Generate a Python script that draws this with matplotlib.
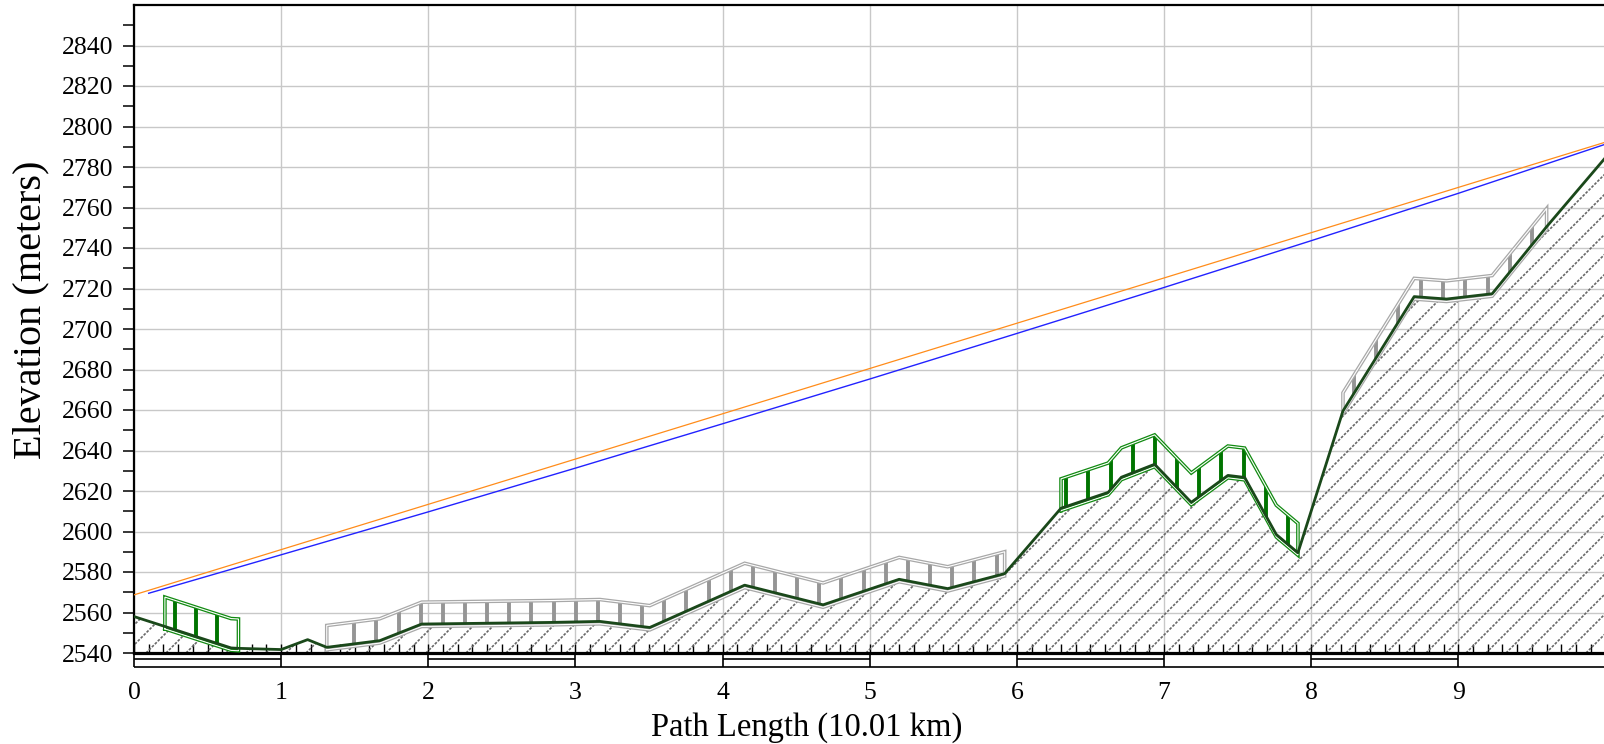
import numpy as np
import matplotlib
matplotlib.use("Agg")
import matplotlib.pyplot as plt
from matplotlib.collections import LineCollection
from matplotlib.patches import Polygon

plt.rcParams['font.family'] = ['Liberation Serif', 'DejaVu Serif']

# terrain profile (km, m)
dist = [0.0, 0.21, 0.66, 0.71, 1.00, 1.18, 1.31, 1.67, 1.955, 2.83, 3.166, 3.505,
        4.15, 4.683, 5.20, 5.53, 5.917, 6.30, 6.62, 6.71, 6.936, 7.185, 7.434,
        7.548, 7.763, 7.91, 8.216, 8.70, 8.92, 9.23, 9.60, 10.01]
elev = [2558.0, 2553.1, 2542.5, 2542.3, 2541.7, 2546.6, 2542.8, 2546.1, 2554.3,
        2555.1, 2555.6, 2552.6, 2573.5, 2563.8, 2576.4, 2571.8, 2579.2, 2611.5,
        2619.3, 2626.8, 2633.2, 2614.4, 2627.7, 2626.7, 2598.5, 2589.5, 2659.5,
        2716.0, 2714.8, 2717.4, 2750.5, 2785.5]

# clutter blocks: start km, end km, height m, first bar km, bar spacing km
clutter_start = [0.21, 1.31, 6.30, 8.216]
clutter_end = [0.71, 5.917, 7.91, 9.60]
clutter_height = [14.5, 10.8, 14.5, 9.0]
clutter_kind = ['forest', 'other', 'forest', 'other']
bar_first = [0.28, 1.497, 6.336, 8.29]
bar_step = [0.143, 0.1505, 0.1506, 0.1515]

# line of sight (orange) and radio path (blue)
los_x = [0.0, 10.01]
los_y = [2568.7, 2792.5]
ray_x = [0.1, 1, 2, 3, 4, 5, 6, 7, 8, 9, 10.01]
ray_y = [2569.5, 2588.5, 2609.7, 2631.3, 2653.2, 2675.3, 2697.8, 2720.5,
         2743.6, 2767.0, 2791.5]

km_ticks = [0, 1, 2, 3, 4, 5, 6, 7, 8, 9]

dist = np.array(dist)
elev = np.array(elev)

fig = plt.figure(figsize=(16.04, 7.44), dpi=100)
ax_l, ax_b, ax_w, ax_h = 134 / 1604, 91 / 744, 1 - 134 / 1604, 648 / 744
ax = fig.add_axes([ax_l, ax_b, ax_w, ax_h])
xmin, xmax, ymin, ymax = 0, 9.99, 2540, 2860
ax.set_xlim(xmin, xmax)
ax.set_ylim(ymin, ymax)

ax.set_axisbelow(True)
ax.grid(True, color='#c8c8c8', linewidth=1.0)

# terrain hatch: dashed 45 degree lines clipped to the ground
px_km = ax_w * 1604 / (xmax - xmin)
px_m = ax_h * 744 / (ymax - ymin)
slope = px_km / px_m
gap = 20.0 / px_km
segs = []
for c in np.arange(xmin - (ymax - ymin) / slope, 10.2, gap):
    segs.append([(c, ymin), (c + (ymax - ymin) / slope, ymax)])
ground = Polygon(np.column_stack([np.concatenate([dist, [dist[-1], dist[0]]]),
                                  np.concatenate([elev, [ymin, ymin]])]),
                 closed=True, facecolor='none', edgecolor='none')
ax.add_patch(ground)
hatch = LineCollection(segs, colors='#686868', linewidths=1.2,
                       linestyles=[(0, (1.6, 0.9))], zorder=1)
ax.add_collection(hatch)
hatch.set_clip_path(ground)

colors = {'forest': ('#118a11', '#007400'), 'other': ('#a8a8a8', '#959595')}
for x0, x1, h, kind, b0, step in zip(clutter_start, clutter_end, clutter_height,
                                     clutter_kind, bar_first, bar_step):
    edge_c, bar_c = colors[kind]
    m = (dist >= x0 - 1e-6) & (dist <= x1 + 1e-6)
    xs = dist[m]
    ys = elev[m]
    # vertical bars
    for xb in np.arange(b0, x1 - 0.02, step):
        yb = np.interp(xb, dist, elev)
        ax.plot([xb, xb], [yb - 1.0, yb + h], color=bar_c, lw=2.8,
                solid_capstyle='butt', zorder=3)
    # double outline
    ox = np.concatenate([[xs[0]], xs, [xs[-1]], xs[::-1], [xs[0]]])
    oy = np.concatenate([[ys[0] - 1.2], ys + h, [ys[-1] - 1.2], ys[::-1] - 1.2,
                         [ys[0] - 1.2]])
    ax.plot(ox, oy, color=edge_c, lw=2.6, zorder=4, solid_joinstyle='miter')
    ax.plot(ox, oy, color='white', lw=0.8, zorder=4.1, solid_joinstyle='miter')

# terrain line
ax.plot(dist, elev, color='#1a481a', lw=2.0, zorder=5)

ax.plot(los_x, los_y, color='#ff8c1a', lw=0.9, zorder=6)
ax.plot(ray_x, ray_y, color='#2222ff', lw=1.0, zorder=6)

# scale bar under the axis
bar_bot = 2533.1
bar_mid = 2536.9
ax.hlines(bar_bot, 0, 10.01, color='black', lw=1.2, clip_on=False)
for k in km_ticks + [10]:
    ax.vlines(k, bar_bot, 2540, color='black', lw=1.2, clip_on=False)
for k in km_ticks[::2]:
    ax.hlines(bar_mid, k, k + 1, color='black', lw=1.2, clip_on=False)

# spines
ax.spines['right'].set_visible(False)
ax.spines['left'].set_linewidth(1.6)
ax.spines['top'].set_linewidth(1.6)
ax.spines['bottom'].set_linewidth(2.3)

ax.set_yticks(np.arange(2540, 2841, 20))
ax.set_yticks(np.arange(2550, 2861, 20), minor=True)
ax.tick_params(axis='y', which='both', direction='out', length=8, width=1.1,
               labelsize=18.5, pad=7)
ax.set_xticks(km_ticks)
ax.set_xticks(np.arange(0.1, 9.99, 0.1), minor=True)
ax.tick_params(axis='x', which='both', direction='in', length=6.5, width=1.0,
               labelsize=18.5, pad=21)

fig.text(807 / 1604, 1 - 728 / 744, 'Path Length (10.01 km)', ha='center',
         va='center', fontsize=23.5)
fig.text(31 / 1604, 1 - 310 / 744, 'Elevation (meters)', ha='center',
         va='center', rotation=90, fontsize=29)

fig.savefig('out.png', dpi=100)
